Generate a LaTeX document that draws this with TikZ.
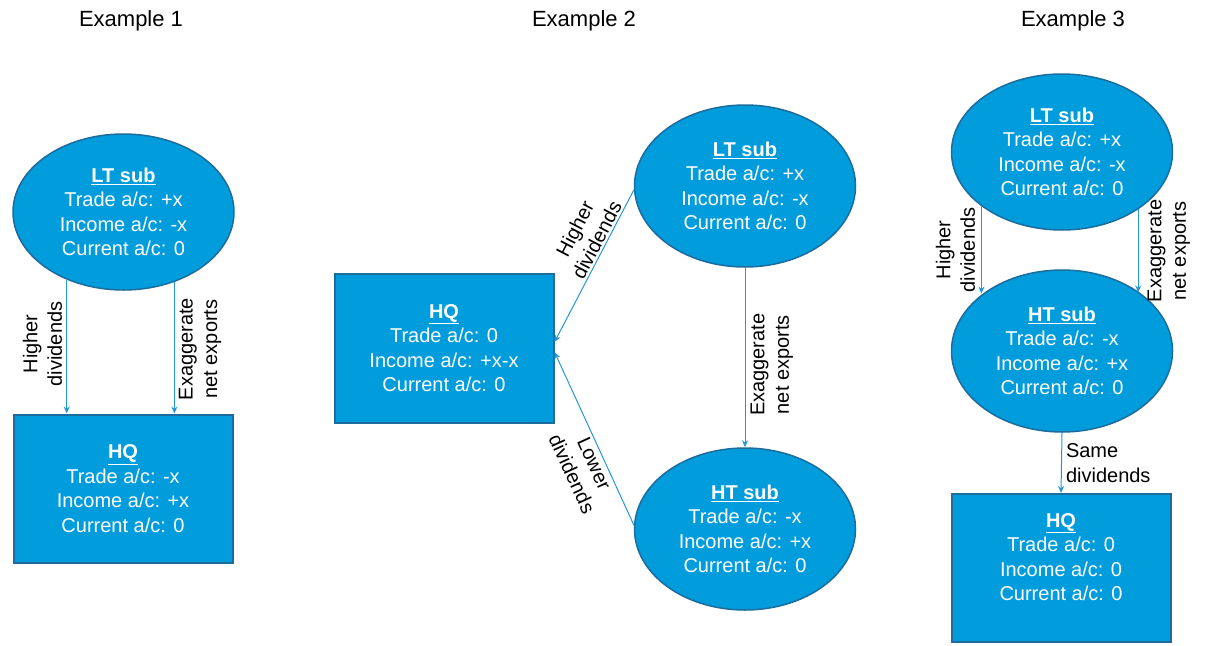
\documentclass[tikz,border=0pt]{standalone}
\usepackage{fontspec}
\setmainfont{Liberation Sans}
\usetikzlibrary{shapes.geometric,arrows.meta}
\definecolor{nfill}{RGB}{0,156,220}
\definecolor{nborder}{RGB}{28,108,158}
\definecolor{arrcol}{RGB}{35,152,212}
\begin{document}
\begin{tikzpicture}[x=1pt,y=-1pt,
  every node/.style={font=\fontsize{20}{24.5}\selectfont},
  ell/.style={ellipse, draw=nborder, line width=1.5pt, fill=nfill, text=white, align=center, inner sep=0pt, minimum width=221pt},
  box/.style={rectangle, draw=nborder, line width=2pt, fill=nfill, text=white, align=center, inner sep=0pt, minimum width=219pt},
  arr/.style={draw=arrcol, line width=1pt, -{Stealth[length=7pt,width=6pt]}},
  lbl/.style={text=black, align=center, inner sep=4pt},
  vleft/.style={lbl, rotate=90, anchor=south},
  vright/.style={lbl, rotate=90, anchor=north},
  ttl/.style={font=\fontsize{22}{26}\selectfont, anchor=base}]
\useasboundingbox (0,0) rectangle (1209,645);

% ---------- Example 1
\node[ttl] (t1) at (131,26) {Example 1};
\node[ell, minimum height=156pt] (lt1) at (123.5,212)
  {\textbf{\underline{LT sub}}\\Trade a/c: +x\\Income a/c: -x\\Current a/c: 0};
\node[box, minimum height=148pt] (hq1) at (123,488.5)
  {\textbf{\underline{HQ}}\\Trade a/c: -x\\Income a/c: +x\\Current a/c: 0};
\draw[arr] (lt1.230.1) -- (lt1.230.1 |- hq1.north)
  node[vleft, pos=0.48] {Higher\\dividends};
\draw[arr] (lt1.306.8) -- (lt1.306.8 |- hq1.north)
  node[vright, pos=0.51] {Exaggerate\\net exports};

% ---------- Example 2
\node[ttl] (t2) at (584,26) {Example 2};
\node[box, minimum height=149pt] (hq2) at (444,348)
  {\textbf{\underline{HQ}}\\Trade a/c: 0\\Income a/c: +x-x\\Current a/c: 0};
\node[ell, minimum height=162pt] (lt2) at (745,186)
  {\textbf{\underline{LT sub}}\\Trade a/c: +x\\Income a/c: -x\\Current a/c: 0};
\node[ell, minimum height=162pt] (ht2) at (745,529)
  {\textbf{\underline{HT sub}}\\Trade a/c: -x\\Income a/c: +x\\Current a/c: 0};
\draw[arr] (lt2.south) -- (ht2.north)
  node[vright, pos=0.54, inner sep=5pt] {Exaggerate\\net exports};
\draw[arr] (lt2.182) -- ([yshift=6pt]hq2.east)
  node[lbl, pos=0.36, sloped, above, inner sep=2pt] {Higher\\dividends};
\draw[arr] (ht2.178) -- ([yshift=-4pt]hq2.east)
  node[lbl, pos=0.38, sloped, below, inner sep=3pt] {Lower\\dividends};

% ---------- Example 3
\node[ttl] (t3) at (1073,26) {Example 3};
\node[ell, minimum height=156pt] (lt3) at (1062,152)
  {\textbf{\underline{LT sub}}\\Trade a/c: +x\\Income a/c: -x\\Current a/c: 0};
\node[ell, minimum height=162pt] (ht3) at (1062,351)
  {\textbf{\underline{HT sub}}\\Trade a/c: -x\\Income a/c: +x\\Current a/c: 0};
\node[box, minimum height=148pt] (hq3) at (1061,568)
  {\textbf{\underline{HQ}}\\Trade a/c: 0\\Income a/c: 0\\Current a/c: 0\rule[-22pt]{0pt}{0pt}};
\draw[arr] (lt3.214.8) -- (lt3.214.8 |- ht3.144.2)
  node[vleft, pos=0.5, inner sep=6pt] {Higher\\dividends};
\draw[arr] (lt3.323.1) -- (lt3.323.1 |- ht3.37.8)
  node[vright, pos=0.5, inner sep=9pt] {Exaggerate\\net exports};
\draw[arr] (ht3.south) -- (hq3.north)
  node[lbl, pos=0.5, right, align=left] {Same\\dividends};
\end{tikzpicture}
\end{document}
